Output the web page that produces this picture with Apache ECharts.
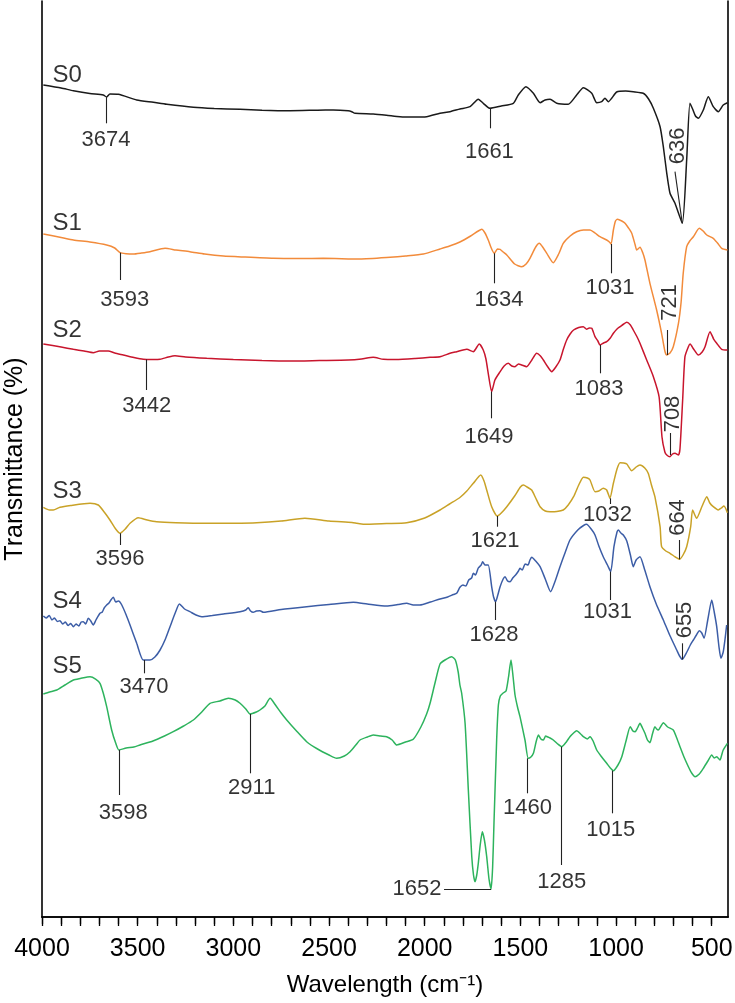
<!DOCTYPE html>
<html>
<head>
<meta charset="utf-8">
<script src="https://cdn.jsdelivr.net/npm/echarts@6/dist/echarts.min.js"></script>
<style>
  html, body { margin: 0; padding: 0; background: #fff; }
  #chart { width: 735px; height: 1003px; }
</style>
</head>
<body>
<div id="chart"></div>
<script>
// axis range and ticks (cm-1)
var xMin = 415, xMax = 4000;
var tickLabels = [4000, 3500, 3000, 2500, 2000, 1500, 1000, 500];
var tickMarks = [4000, 3900, 3800, 3700, 3600, 3500, 3400, 3300, 3200, 3100, 3000,
  2900, 2800, 2700, 2600, 2500, 2400, 2300, 2200, 2100, 2000, 1900, 1800, 1700,
  1600, 1500, 1400, 1300, 1200, 1100, 1000, 900, 800, 700, 600, 500];

// spectra: [wavenumber, transmittance (arbitrary offset units)]
var s0 = [[3993,832],[3900,829],[3836,826.3],[3750,823.5],[3680,822],[3662,820],[3645,823],[3601,822.7],[3505,817],[3418,814.7],[3348,812.7],[3209,809.7],[3100,808.5],[2965,807.7],[2850,806.8],[2704,806.3],[2560,806.8],[2478,807],[2400,806.2],[2381,805.3],[2364,803.7],[2269,803],[2200,801.8],[2129,800.3],[2060,800],[1990,800.3],[1920,803.7],[1868,805.3],[1816,808],[1763,810.3],[1720,817.7],[1694,813.7],[1659,808.7],[1600,811],[1537,813.7],[1511,822],[1471,830.3],[1432,823.7],[1397,814.3],[1371,817],[1345,817.7],[1310,813.7],[1250,812.7],[1206,822],[1171,829.3],[1127,823.7],[1101,814.3],[1075,815.3],[1058,818.7],[1040,815.3],[1023,818.7],[997,825],[950,826],[910,825.3],[858,823.7],[830,818],[805,808.7],[770,790.3],[753,770.3],[735,743.7],[718,723.7],[692,713.7],[654,693.7],[631,757],[614,813.7],[600,808],[585,801],[570,798.7],[544,807],[518,820.3],[492,810.3],[466,805.3],[440,812],[418,814.3]];

var s1 = [[3993,683],[3900,679.5],[3836,677],[3750,675],[3662,672],[3620,669],[3592,664.3],[3560,663.3],[3523,663],[3480,664],[3436,665.3],[3357,668.7],[3300,667],[3227,665.3],[3150,663],[3052,661],[2950,660],[2791,658.7],[2650,658.5],[2530,658.7],[2338,658],[2181,659.7],[2100,661],[2007,663],[1920,668],[1870,671],[1816,675],[1760,681],[1720,686],[1702,687.7],[1685,684],[1668,677],[1650,668],[1636,663.7],[1620,668],[1606,667.7],[1590,665],[1571,662],[1530,653],[1493,650.3],[1470,653],[1450,658.7],[1420,670],[1401,673.7],[1380,669],[1362,663.7],[1328,654.3],[1300,663],[1276,673.7],[1240,681],[1206,685.3],[1170,687],[1136,687],[1110,684],[1084,680.3],[1049,677],[1035,675],[1026,673],[1014,687],[1003,696],[993,697.7],[970,696],[953,693.7],[935,689],[918,683.7],[900,672],[892,667],[875,669.7],[860,664],[849,657],[823,633.7],[788,607],[762,583.7],[745,566],[735,562],[718,564],[701,570.3],[674,593.7],[660,615],[649,643.7],[631,670.3],[615,676],[596,680.3],[565,688.7],[545,686],[526,682],[492,678.7],[470,674],[448,668.7],[418,667]];

var s2 = [[3993,573],[3900,570],[3836,567.7],[3780,566],[3732,564.3],[3700,566],[3654,566],[3620,564],[3575,562],[3520,559.5],[3471,557.7],[3420,557.5],[3383,557.7],[3340,560],[3305,561.3],[3250,560],[3139,558.7],[3000,557.5],[2850,556.5],[2700,556],[2550,556.5],[2400,557],[2330,558],[2269,559.7],[2216,557.7],[2150,557.5],[2050,558.5],[1972,559.7],[1920,560.3],[1868,563.7],[1833,565.3],[1780,567.7],[1746,565.3],[1715,573],[1694,567],[1680,558],[1668,543.7],[1650,525.3],[1633,537],[1606,545.3],[1585,551],[1563,553.7],[1545,551],[1528,550.3],[1510,553],[1493,552],[1467,550.3],[1440,557],[1415,563.7],[1395,561],[1380,557],[1360,551],[1336,545.3],[1315,550],[1293,557],[1275,568],[1258,577],[1240,583],[1222,587],[1195,589.5],[1171,590.3],[1154,587.7],[1140,589],[1127,588.7],[1110,580.3],[1095,576],[1084,572],[1065,574],[1049,575.3],[1030,579],[1014,583.7],[995,588],[979,590.3],[960,593],[944,594.7],[925,592],[910,587],[890,580],[875,573.7],[840,557],[805,540.3],[775,520],[760,480],[745,465],[735,462],[718,460.3],[705,463],[692,463.7],[674,462],[666,468],[652,517],[640,560.3],[622,570.3],[613,573],[595,568],[570,562],[550,565],[535,570.3],[509,585.3],[490,578],[474,573.7],[448,567.7],[418,567]];

var s3 = [[3993,409.7],[3960,407],[3941,407],[3906,409.7],[3850,411.5],[3749,413.7],[3706,412],[3675,405],[3645,397],[3615,388],[3592,383.7],[3565,388],[3540,393.7],[3497,399.3],[3450,397],[3401,395.3],[3300,394.3],[3139,393.7],[3000,393.8],[2878,394.3],[2750,396],[2626,398.7],[2500,396],[2380,394.5],[2355,393.7],[2321,392.7],[2200,393.5],[2094,394.3],[2000,399],[1920,407],[1870,413],[1816,419.5],[1780,426],[1746,433.7],[1707,442],[1690,436],[1676,427],[1650,410.3],[1621,401],[1600,404],[1571,410.3],[1530,421],[1500,430],[1484,432],[1465,430],[1441,427],[1420,419],[1397,410.3],[1370,406],[1345,405.3],[1310,405.5],[1276,407],[1250,412],[1222,420.3],[1195,432],[1171,439.7],[1150,439],[1136,437],[1110,425.3],[1090,426],[1067,428.7],[1049,427],[1032,418.7],[1014,433.7],[995,448],[979,454.3],[960,454],[944,453],[918,446.3],[895,450],[875,452],[850,449],[832,443.7],[815,432],[797,420.3],[770,390.3],[762,370.3],[740,366],[718,363.7],[690,360],[669,357.7],[650,362],[631,370.3],[610,390.3],[600,407],[579,398.7],[550,411],[526,420.3],[510,414],[492,410.3],[466,407],[450,409],[436,411],[418,404.3]];

var s4 = [[3993,301],[3978,299],[3962,301.5],[3948,297],[3935,299],[3920,295.5],[3906,296.3],[3892,293],[3878,295],[3864,291.5],[3850,293.5],[3836,290.3],[3822,293],[3808,291],[3795,295],[3784,295.3],[3772,293],[3758,298.7],[3745,296],[3732,292],[3718,297],[3697,303.7],[3685,305],[3675,309],[3662,312],[3650,314],[3640,317],[3627,319.7],[3615,315],[3600,316],[3583,312],[3560,302],[3540,292],[3505,273.7],[3471,257],[3436,257],[3410,260],[3383,267],[3355,278],[3331,290.3],[3300,306],[3282,313],[3255,308],[3227,305.3],[3195,302],[3165,300.3],[3110,301.5],[3052,303],[2965,305.3],[2935,307],[2922,309.3],[2910,306],[2896,304.7],[2880,306],[2861,306.3],[2843,304.7],[2750,307.5],[2617,310.3],[2500,312.5],[2373,314.7],[2300,313],[2199,311],[2140,312.5],[2094,313.7],[2060,312],[2025,312],[1970,315],[1920,318],[1880,320],[1850,322.5],[1833,323.7],[1816,329.7],[1800,332],[1785,331],[1770,337],[1755,339],[1746,343.7],[1735,342],[1720,349],[1705,352],[1697,355.3],[1685,352],[1668,352],[1650,330.3],[1640,320],[1629,315.3],[1618,322],[1606,330.3],[1590,338],[1580,340.3],[1567,336],[1554,335.3],[1540,339],[1525,342],[1510,346],[1502,348.7],[1490,347],[1475,353],[1460,352],[1450,357],[1441,359.7],[1420,356],[1397,350.3],[1370,338],[1342,325.3],[1318,336],[1293,350.3],[1265,365],[1241,377],[1200,387],[1170,391.5],[1154,392.7],[1130,388],[1110,382],[1090,371],[1067,360.3],[1045,352],[1028,345.3],[1011,370.3],[995,385],[988,387],[975,384],[962,382],[944,376],[925,362],[910,350.3],[895,357],[875,360.3],[850,347],[823,330.3],[790,313],[753,297],[720,282],[683,267],[668,261],[654,257.7],[630,265],[612,272],[596,277],[580,282],[565,286.3],[552,284],[540,278.7],[520,298],[500,317],[487,305],[474,290.3],[462,270],[452,258.7],[440,265],[431,277],[422,292]];

var s5 = [[3993,223],[3960,225],[3923,227],[3880,232],[3836,237],[3800,238.5],[3749,240.3],[3720,238],[3697,233.7],[3680,224],[3662,210.3],[3636,187],[3615,174],[3598,167],[3560,169],[3520,170],[3488,172],[3420,176],[3360,181],[3314,185.3],[3260,191],[3209,197],[3165,205],[3122,213.7],[3070,216],[3026,218.7],[2990,217],[2965,213.7],[2935,208],[2913,203],[2880,205],[2861,207],[2835,211],[2808,218.7],[2780,212],[2750,204],[2721,197],[2670,186],[2617,175.3],[2560,168],[2500,162],[2460,158.7],[2420,161],[2390,165.3],[2360,172],[2338,177],[2300,180],[2269,182],[2230,181],[2199,180.3],[2170,177],[2146,172],[2100,175],[2060,177.7],[2020,190],[1990,203],[1972,213.7],[1945,235],[1920,253],[1894,257],[1859,260.3],[1840,257],[1825,245],[1816,232],[1807,224],[1789,193.7],[1772,127],[1754,60.3],[1745,42],[1737,35.3],[1728,42],[1720,53.7],[1710,72],[1699,85.3],[1688,77],[1676,60.3],[1664,38],[1653,28],[1645,50],[1638,93.7],[1624,177],[1615,212],[1605,221],[1590,224],[1575,226],[1562,240],[1549,257],[1538,240],[1528,222],[1515,210],[1502,200.3],[1476,177],[1459,158.7],[1445,160],[1432,163.7],[1418,175],[1406,182],[1393,178],[1380,177],[1368,181],[1360,180.3],[1345,179],[1328,177],[1305,173],[1284,170.3],[1260,175],[1241,180.3],[1222,184],[1206,186.3],[1185,183],[1171,180.3],[1150,178],[1136,180.3],[1120,176],[1101,167],[1075,160],[1049,153.7],[1030,149],[1014,146.3],[990,152],[970,160.3],[948,176],[926,190.3],[912,186],[900,185.3],[888,189],[875,193.7],[862,189],[849,183.7],[836,177],[823,174.3],[810,183],[797,190.3],[788,188],[779,187],[765,191],[753,194.3],[730,190],[701,187],[685,180],[666,170.3],[645,160],[622,150.3],[605,144],[587,140.3],[565,143],[544,148.7],[520,156],[500,162],[487,159],[474,160.3],[457,157],[448,162],[440,167],[418,173.7]];

var spectra = [s0, s1, s2, s3, s4, s5];
var seriesNames = ['S0', 'S1', 'S2', 'S3', 'S4', 'S5'];
var seriesColors = ['#1a1a1a', '#f28b3b', '#c8152d', '#c9a227', '#3c5da6', '#2db35d'];
var nameSpots = [[3948, 842], [3948, 694], [3948, 587], [3948, 425.3], [3948, 315.3], [3948, 250.3]];

// peak notes: text, leader start, leader end, text centre, rotation
var peaks = [
  ['3674', [3662, 820], [3662, 793.7], [3666, 777], 0],
  ['1661', [1659, 808.7], [1659, 788.7], [1662, 765.3], 0],
  ['636', [654, 693.7], [692, 745.3], [678, 771.2], 90],
  ['3593', [3592, 664.3], [3592, 637], [3568, 617], 0],
  ['1634', [1636, 663.7], [1636, 633.7], [1612, 617], 0],
  ['1031', [1026, 673], [1026, 643.7], [1032, 629], 0],
  ['721', [735, 562], [735, 587], [718, 614.5], 90],
  ['3442', [3453, 557.5], [3453, 527], [3453, 511], 0],
  ['1083', [1084, 572], [1084, 543.7], [1089, 527.7], 0],
  ['1649', [1650, 525.3], [1650, 498.7], [1664, 480.3], 0],
  ['708', [718, 462], [718, 484], [702, 503], 90],
  ['3596', [3592, 383.7], [3592, 372], [3592, 358], 0],
  ['1621', [1621, 401], [1621, 390.3], [1633, 376], 0],
  ['1032', [1032, 418.7], [1032, 413], [1045, 402.3], 0],
  ['664', [669, 357.7], [669, 377], [679, 399.5], 90],
  ['3470', [3465, 257], [3465, 243.7], [3467, 230.3], 0],
  ['1628', [1629, 315.3], [1629, 297], [1638, 282], 0],
  ['1031', [1028, 345.3], [1028, 317], [1045, 305.3], 0],
  ['655', [654, 257.7], [654, 273.7], [640, 297], 90],
  ['3598', [3598, 167], [3598, 122], [3575, 104], 0],
  ['2911', [2913, 203], [2913, 143.7], [2904, 128.7], 0],
  ['1460', [1462, 158.7], [1462, 123.7], [1463, 108.7], 0],
  ['1285', [1284, 170.3], [1284, 52], [1284, 35.3], 0],
  ['1015', [1018, 146.3], [1018, 103.7], [1028, 87], 0],
  ['1652', [1653, 28], [1899, 28], [2040, 28], 0]
];

var font = 'Liberation Sans, Arial, sans-serif';
var ink = '#000';

var chart = echarts.init(document.getElementById('chart'));

var series = [];
for (var i = 0; i < spectra.length; i++) {
  series.push({
    name: seriesNames[i],
    type: 'line',
    data: spectra[i],
    showSymbol: false,
    smooth: 0.2,
    lineStyle: { color: seriesColors[i], width: 1.5 },
    itemStyle: { color: seriesColors[i] },
    z: 3
  });
}

// sample names at the left
series.push({
  type: 'scatter',
  symbol: 'circle',
  symbolSize: 1,
  itemStyle: { color: 'rgba(0,0,0,0)' },
  data: nameSpots.map(function (p, i) { return { name: seriesNames[i], value: p }; }),
  label: {
    show: true, formatter: '{b}', position: 'right', distance: 0,
    fontSize: 24, color: ink, fontFamily: font
  },
  z: 5
});

// peak labels and leader lines
series.push({
  type: 'scatter',
  symbol: 'circle',
  symbolSize: 1,
  itemStyle: { color: 'rgba(0,0,0,0)' },
  data: peaks.map(function (p) {
    return { name: p[0], value: p[3], label: { rotate: p[4] } };
  }),
  label: {
    show: true, formatter: '{b}', position: 'inside',
    fontSize: 22, color: ink, fontFamily: font
  },
  markLine: {
    silent: true,
    symbol: ['none', 'none'],
    label: { show: false },
    lineStyle: { color: '#222', width: 1.1, type: 'solid' },
    emphasis: { disabled: true },
    data: peaks.map(function (p) {
      return [{ coord: p[1] }, { coord: p[2] }];
    })
  },
  z: 5
});

chart.setOption({
  animation: false,
  backgroundColor: '#fff',
  grid: { left: 42, right: 7, top: 1, bottom: 86, outerBoundsMode: 'none', containLabel: false },
  xAxis: [{
    type: 'value', inverse: true, min: xMin, max: xMax, position: 'bottom',
    name: 'Wavelength (cm\u207B\u00B9)', nameLocation: 'middle', nameGap: 56,
    nameTextStyle: { fontSize: 24, color: ink, fontFamily: font },
    axisLine: { show: true, lineStyle: { color: ink, width: 1.6 } },
    axisTick: { show: true, customValues: tickMarks, length: 9, lineStyle: { color: ink, width: 1.3 } },
    axisLabel: {
      show: true, customValues: tickLabels, fontSize: 25, color: ink, fontFamily: font, margin: 20,
      formatter: function (v) { return String(v); }
    },
    splitLine: { show: false }
  }, {
    type: 'value', inverse: true, min: xMin, max: xMax, position: 'top',
    axisLine: { show: true, lineStyle: { color: ink, width: 1.6 } },
    axisTick: { show: true, inside: true, customValues: tickMarks, length: 7, lineStyle: { color: ink, width: 1.3 } },
    axisLabel: { show: false },
    splitLine: { show: false }
  }],
  yAxis: [{
    type: 'value', min: 0, max: 916, position: 'left',
    name: 'Transmittance (%)', nameLocation: 'middle', nameGap: 14, nameRotate: 90,
    nameTextStyle: { fontSize: 25, color: ink, fontFamily: font },
    axisLine: { show: true, lineStyle: { color: ink, width: 1.6 } },
    axisTick: { show: false },
    axisLabel: { show: false },
    splitLine: { show: false }
  }, {
    type: 'value', min: 0, max: 916, position: 'right',
    axisLine: { show: true, lineStyle: { color: ink, width: 1.6 } },
    axisTick: { show: false },
    axisLabel: { show: false },
    splitLine: { show: false }
  }],
  series: series
});
</script>
</body>
</html>
